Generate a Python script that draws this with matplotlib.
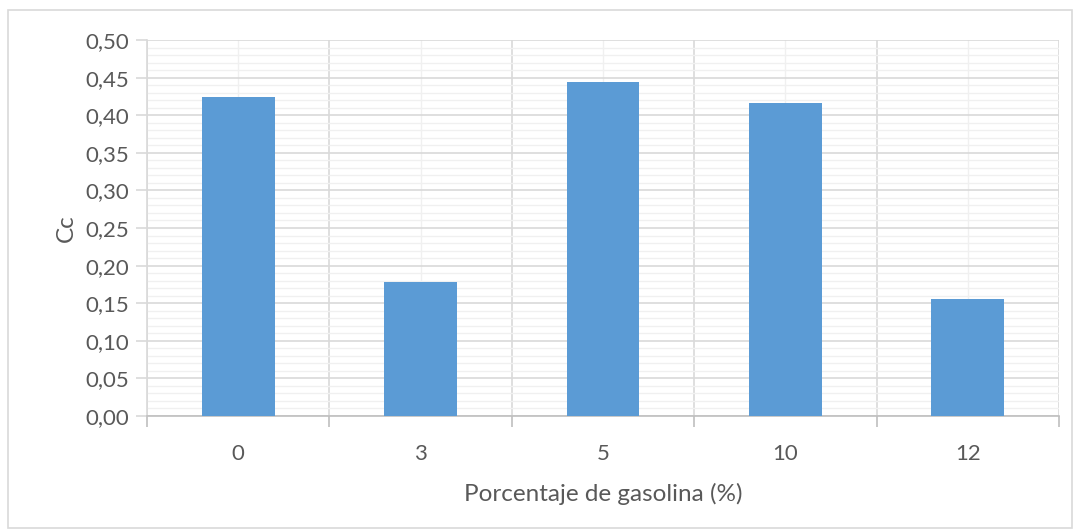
import matplotlib
matplotlib.use("Agg")
import matplotlib.pyplot as plt
from matplotlib.patches import Rectangle
from matplotlib.ticker import MultipleLocator, FixedLocator
import numpy as np

plt.rcParams['font.family'] = ['Lato', 'DejaVu Sans']

# gasoline percentage vs Cc
categorias = ["0", "3", "5", "10", "12"]
cc = [0.424, 0.178, 0.444, 0.416, 0.156]
yticks = [0.00, 0.05, 0.10, 0.15, 0.20, 0.25, 0.30, 0.35, 0.40, 0.45, 0.50]

txt = "#595959"
grid_major = "#d9d9d9"
grid_minor = "#f0f0f0"

fig = plt.figure(figsize=(10.8, 5.29), dpi=100)
ax = fig.add_axes([147 / 1080, 1 - 416 / 529, 912 / 1080, 376 / 529])

# outer chart frame
fig.patches.append(Rectangle((8 / 1080, 0.002), 1064 / 1080, 1 - 10 / 529 - 0.002,
                             transform=fig.transFigure, fill=False,
                             edgecolor="#d9d9d9", linewidth=1.2))

x = np.arange(len(categorias))
ax.bar(x, cc, width=0.4, color="#5b9bd5", zorder=3)

ax.set_xlim(-0.5, len(categorias) - 0.5)
ax.set_ylim(0, 0.5)

ax.set_yticks(yticks)
ax.set_yticklabels([f"{v:.2f}".replace(".", ",") for v in yticks])
ax.yaxis.set_minor_locator(MultipleLocator(0.01))

ax.set_xticks(x)
ax.set_xticklabels(categorias)
ax.xaxis.set_minor_locator(FixedLocator(np.arange(-0.5, len(categorias), 1.0)))

# horizontal grid: major + minor
ax.grid(axis="y", which="major", color=grid_major, linewidth=1.2, zorder=0)
ax.grid(axis="y", which="minor", color=grid_minor, linewidth=1.0, zorder=0)
# vertical grid: category borders and light lines at the centers
for xb in np.arange(-0.5, len(categorias), 1.0):
    ax.axvline(xb, color=grid_major, linewidth=1.2, zorder=1)
for xc in x:
    ax.axvline(xc, color=grid_minor, linewidth=1.0, zorder=0)

for s in ["top", "right"]:
    ax.spines[s].set_visible(False)
ax.spines["left"].set_color(grid_major)
ax.spines["bottom"].set_color("#bfbfbf")
ax.spines["left"].set_linewidth(1.2)
ax.spines["bottom"].set_linewidth(1.2)

ax.tick_params(axis="y", which="major", length=8, color=grid_major, width=1.2,
               labelsize=16, labelcolor=txt, pad=5)
ax.tick_params(axis="y", which="minor", length=0)
ax.tick_params(axis="x", which="major", length=0, labelsize=16, labelcolor=txt, pad=20)
ax.tick_params(axis="x", which="minor", length=8, color="#bfbfbf", width=1.2)

ax.set_ylabel("Cc", fontsize=17.5, color=txt, labelpad=6)
ax.set_xlabel("Porcentaje de gasolina (%)", fontsize=17.5, color=txt, labelpad=14)

fig.savefig("out.png", dpi=100)
